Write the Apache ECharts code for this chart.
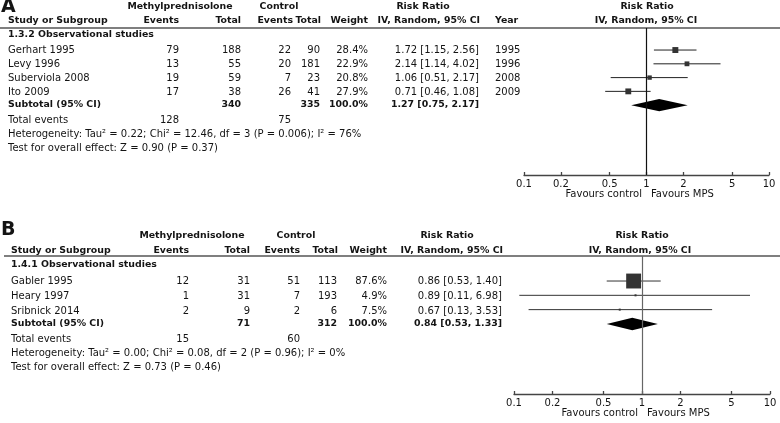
<!DOCTYPE html>
<html><head><meta charset="utf-8">
<script src="https://cdn.jsdelivr.net/npm/echarts@6/dist/echarts.min.js"></script>
<style>html,body{margin:0;padding:0;background:#fff}#c{width:780px;height:423px}</style>
</head><body><div id="c"></div>
<script>
// ---------- Panel A data ----------
const sectionA = '1.3.2 Observational studies';
const studiesA = ['Gerhart 1995', 'Levy 1996', 'Suberviola 2008', 'Ito 2009'];
const mpsEventsA = [79, 13, 19, 17];
const mpsTotalA = [188, 55, 59, 38];
const ctrlEventsA = [22, 20, 7, 26];
const ctrlTotalA = [90, 181, 23, 41];
const weightA = [28.4, 22.9, 20.8, 27.9];
const rrA = [1.72, 2.14, 1.06, 0.71];
const lowA = [1.15, 1.14, 0.51, 0.46];
const highA = [2.56, 4.02, 2.17, 1.08];
const yearA = [1995, 1996, 2008, 2009];
const subtotalA = { mpsTotal: 340, ctrlTotal: 335, weight: 100.0, rr: 1.27, low: 0.75, high: 2.17 };
const totalEventsA = [128, 75];
const hetA = { tau2: '0.22', chi2: '12.46', df: 3, p: '0.006', i2: '76%' };
const testA = { z: '0.90', p: '0.37' };

// ---------- Panel B data ----------
const sectionB = '1.4.1 Observational studies';
const studiesB = ['Gabler 1995', 'Heary 1997', 'Sribnick 2014'];
const mpsEventsB = [12, 1, 2];
const mpsTotalB = [31, 31, 9];
const ctrlEventsB = [51, 7, 2];
const ctrlTotalB = [113, 193, 6];
const weightB = [87.6, 4.9, 7.5];
const rrB = [0.86, 0.89, 0.67];
const lowB = [0.53, 0.11, 0.13];
const highB = [1.40, 6.98, 3.53];
const subtotalB = { mpsTotal: 71, ctrlTotal: 312, weight: 100.0, rr: 0.84, low: 0.53, high: 1.33 };
const totalEventsB = [15, 60];
const hetB = { tau2: '0.00', chi2: '0.08', df: 2, p: '0.96', i2: '0%' };
const testB = { z: '0.73', p: '0.46' };

// ---------- axis ticks ----------
const tickValues = [0.1, 0.2, 0.5, 1, 2, 5, 10];
const tickLabels = ['0.1', '0.2', '0.5', '1', '2', '5', '10'];

// ---------- rendering ----------
const FF = '"DejaVu Sans", "Noto Sans", sans-serif';
const FS = 10;
const FSB = 9.4;
const chart = echarts.init(document.getElementById('c'), null, { renderer: 'canvas' });

function T(x, y, s, align, bold, size) {
  return {
    type: 'text', x: x, y: y, silent: true,
    style: {
      text: String(s), fill: '#141414',
      font: (bold ? 'bold ' : '') + (size || (bold ? FSB : FS)) + 'px ' + FF,
      align: align || 'left', verticalAlign: 'middle'
    }
  };
}
const ci = (r, l, h) => r.toFixed(2) + ' [' + l.toFixed(2) + ', ' + h.toFixed(2) + ']';
const pct = w => w.toFixed(1) + '%';

function panelText(P, d) {
  const g = [];
  g.push(T(P.letterX, P.letterY, P.letter, 'left', true, 19));
  g.push(T(P.mpsHeadX, P.h1, 'Methylprednisolone', 'center', true));
  g.push(T(P.ctrlHeadX, P.h1, 'Control', 'center', true));
  g.push(T(P.rrHeadX, P.h1, 'Risk Ratio', 'center', true));
  g.push(T(P.plotHeadX, P.h1, 'Risk Ratio', 'center', true));
  g.push(T(P.cStudy, P.h2, 'Study or Subgroup', 'left', true));
  g.push(T(P.cME, P.h2, 'Events', 'right', true));
  g.push(T(P.cMT, P.h2, 'Total', 'right', true));
  g.push(T(P.cCE + P.hOff2, P.h2, 'Events', 'right', true));
  g.push(T(P.cCT + 1, P.h2, 'Total', 'right', true));
  g.push(T(P.cW, P.h2, 'Weight', 'right', true));
  g.push(T(P.cRR + 1, P.h2, 'IV, Random, 95% CI', 'right', true));
  if (d.year) g.push(T(P.cYear, P.h2, 'Year', 'left', true));
  g.push(T(P.plotHeadX2, P.h2, 'IV, Random, 95% CI', 'center', true));
  g.push({ type: 'line', silent: true, shape: { x1: P.lineX0, y1: P.lineY, x2: 780, y2: P.lineY }, style: { stroke: '#555', lineWidth: 1.5 } });
  g.push(T(P.cStudy, P.sec, d.section, 'left', true));
  d.studies.forEach((s, i) => {
    const y = P.rows[i];
    g.push(T(P.cStudy, y, s, 'left'));
    g.push(T(P.cME, y, d.me[i], 'right'));
    g.push(T(P.cMT, y, d.mt[i], 'right'));
    g.push(T(P.cCE, y, d.ce[i], 'right'));
    g.push(T(P.cCT, y, d.ct[i], 'right'));
    g.push(T(P.cW, y, pct(d.w[i]), 'right'));
    g.push(T(P.cRR, y, ci(d.rr[i], d.lo[i], d.hi[i]), 'right'));
    if (d.year) g.push(T(P.cYear, y, d.year[i], 'left'));
  });
  const st = d.sub;
  g.push(T(P.cStudy, P.subY, 'Subtotal (95% CI)', 'left', true));
  g.push(T(P.cMT, P.subY, st.mpsTotal, 'right', true));
  g.push(T(P.cCT, P.subY, st.ctrlTotal, 'right', true));
  g.push(T(P.cW, P.subY, pct(st.weight), 'right', true));
  g.push(T(P.cRR, P.subY, ci(st.rr, st.low, st.high), 'right', true));
  g.push(T(P.cStudy, P.teY, 'Total events', 'left'));
  g.push(T(P.cME, P.teY, d.te[0], 'right'));
  g.push(T(P.cCE, P.teY, d.te[1], 'right'));
  const h = d.het;
  g.push(T(P.cStudy, P.hetY, 'Heterogeneity: Tau\u00B2 = ' + h.tau2 + '; Chi\u00B2 = ' + h.chi2 + ', df = ' + h.df + ' (P = ' + h.p + '); I\u00B2 = ' + h.i2, 'left'));
  g.push(T(P.cStudy, P.testY, 'Test for overall effect: Z = ' + d.test.z + ' (P = ' + d.test.p + ')', 'left'));
  g.push(T(P.oneX - 4, P.favY, 'Favours control', 'right'));
  g.push(T(P.oneX + 5, P.favY, 'Favours MPS', 'left'));
  return g;
}

const layA = {
  letter: 'A', letterX: 1, letterY: 7,
  h1: 7, h2: 21, lineY: 28, lineX0: 0, sec: 35,
  rows: [50, 64, 78, 92], subY: 105, teY: 120, hetY: 134, testY: 148, favY: 194,
  cStudy: 8, cME: 179, cMT: 241, cCE: 291, cCT: 320, cW: 368, cRR: 479, cYear: 495,
  hOff2: 2,
  mpsHeadX: 180, ctrlHeadX: 279, rrHeadX: 423, plotHeadX: 647, plotHeadX2: 646, oneX: 646
};
const layB = {
  letter: 'B', letterX: 1, letterY: 230,
  h1: 236, h2: 251, lineY: 256, lineX0: 4, sec: 265,
  rows: [281, 296, 311], subY: 324, teY: 339, hetY: 353, testY: 367, favY: 413,
  cStudy: 11, cME: 189, cMT: 250, cCE: 300, cCT: 337, cW: 387, cRR: 502, cYear: null,
  hOff2: 0,
  mpsHeadX: 192, ctrlHeadX: 296, rrHeadX: 447, plotHeadX: 642, plotHeadX2: 640, oneX: 642
};
const dA = { section: sectionA, studies: studiesA, me: mpsEventsA, mt: mpsTotalA, ce: ctrlEventsA, ct: ctrlTotalA, w: weightA, rr: rrA, lo: lowA, hi: highA, year: yearA, sub: subtotalA, te: totalEventsA, het: hetA, test: testA };
const dB = { section: sectionB, studies: studiesB, me: mpsEventsB, mt: mpsTotalB, ce: ctrlEventsB, ct: ctrlTotalB, w: weightB, rr: rrB, lo: lowB, hi: highB, year: null, sub: subtotalB, te: totalEventsB, het: hetB, test: testB };

function xAxisCfg(idx, color) {
  return {
    gridIndex: idx, type: 'log', logBase: 10, min: 0.1, max: 10, position: 'bottom',
    axisLine: { show: true, onZero: false, lineStyle: { color: color, width: 1.3 } },
    axisTick: { show: true, customValues: tickValues, inside: true, length: 3, lineStyle: { color: color, width: 1.3 } },
    minorTick: { show: false },
    axisLabel: {
      customValues: tickValues, margin: 4, fontSize: 10, fontFamily: FF, color: '#141414',
      formatter: v => { let b = 0; tickValues.forEach((t, i) => { if (Math.abs(Math.log10(t) - Math.log10(v)) < Math.abs(Math.log10(tickValues[b]) - Math.log10(v))) b = i; }); return tickLabels[b]; }
    },
    splitLine: { show: false }
  };
}

function studySeries(idx, rr, lo, hi, w, k, lineColor) {
  return {
    type: 'custom', xAxisIndex: idx, yAxisIndex: idx, clip: false,
    encode: { x: [0, 1, 2], y: 3 },
    data: rr.map((r, i) => [r, lo[i], hi[i], i + 1, w[i]]),
    renderItem: (params, api) => {
      const c = api.coord([api.value(0), api.value(3)]);
      const a = api.coord([api.value(1), api.value(3)]);
      const b = api.coord([api.value(2), api.value(3)]);
      const s = Math.max(2, api.value(4) * k);
      return {
        type: 'group', children: [
          { type: 'line', shape: { x1: a[0], y1: a[1], x2: b[0], y2: b[1] }, style: { stroke: lineColor, lineWidth: 1 } },
          { type: 'rect', shape: { x: c[0] - s / 2, y: c[1] - s / 2, width: s, height: s }, style: { fill: '#333' } }
        ]
      };
    },
    markLine: {
      silent: true, symbol: 'none', label: { show: false },
      lineStyle: { color: idx === 0 ? '#111' : '#666', width: 1.2, type: 'solid' },
      data: [{ xAxis: 1 }]
    }
  };
}

function diamondSeries(idx, sub, row) {
  return {
    type: 'custom', xAxisIndex: idx, yAxisIndex: idx, clip: false,
    encode: { x: [0, 1, 2], y: 3 },
    data: [[sub.rr, sub.low, sub.high, row]],
    renderItem: (params, api) => {
      const c = api.coord([api.value(0), api.value(3)]);
      const a = api.coord([api.value(1), api.value(3)]);
      const b = api.coord([api.value(2), api.value(3)]);
      const h = 6.2;
      return {
        type: 'polygon',
        shape: { points: [[a[0], a[1]], [c[0], c[1] - h], [b[0], b[1]], [c[0], c[1] + h]] },
        style: { fill: '#000' }
      };
    }
  };
}

chart.setOption({
  animation: false,
  backgroundColor: '#fff',
  grid: [
    { left: 524, right: 11, top: 28, height: 147 },
    { left: 514, right: 10, top: 256, height: 138 }
  ],
  xAxis: [xAxisCfg(0, '#444'), xAxisCfg(1, '#444')],
  yAxis: [
    { gridIndex: 0, type: 'value', min: -0.6, max: 10.07, inverse: true, show: false, splitLine: { show: false } },
    { gridIndex: 1, type: 'value', min: -0.75, max: 8.9, inverse: true, show: false, splitLine: { show: false } }
  ],
  series: [
    studySeries(0, rrA, lowA, highA, weightA, 0.21, '#222'),
    diamondSeries(0, subtotalA, studiesA.length + 1),
    studySeries(1, rrB, lowB, highB, weightB, 0.17, '#333'),
    diamondSeries(1, subtotalB, studiesB.length + 1)
  ],
  graphic: { elements: panelText(layA, dA).concat(panelText(layB, dB)) }
});
</script>
</body></html>
